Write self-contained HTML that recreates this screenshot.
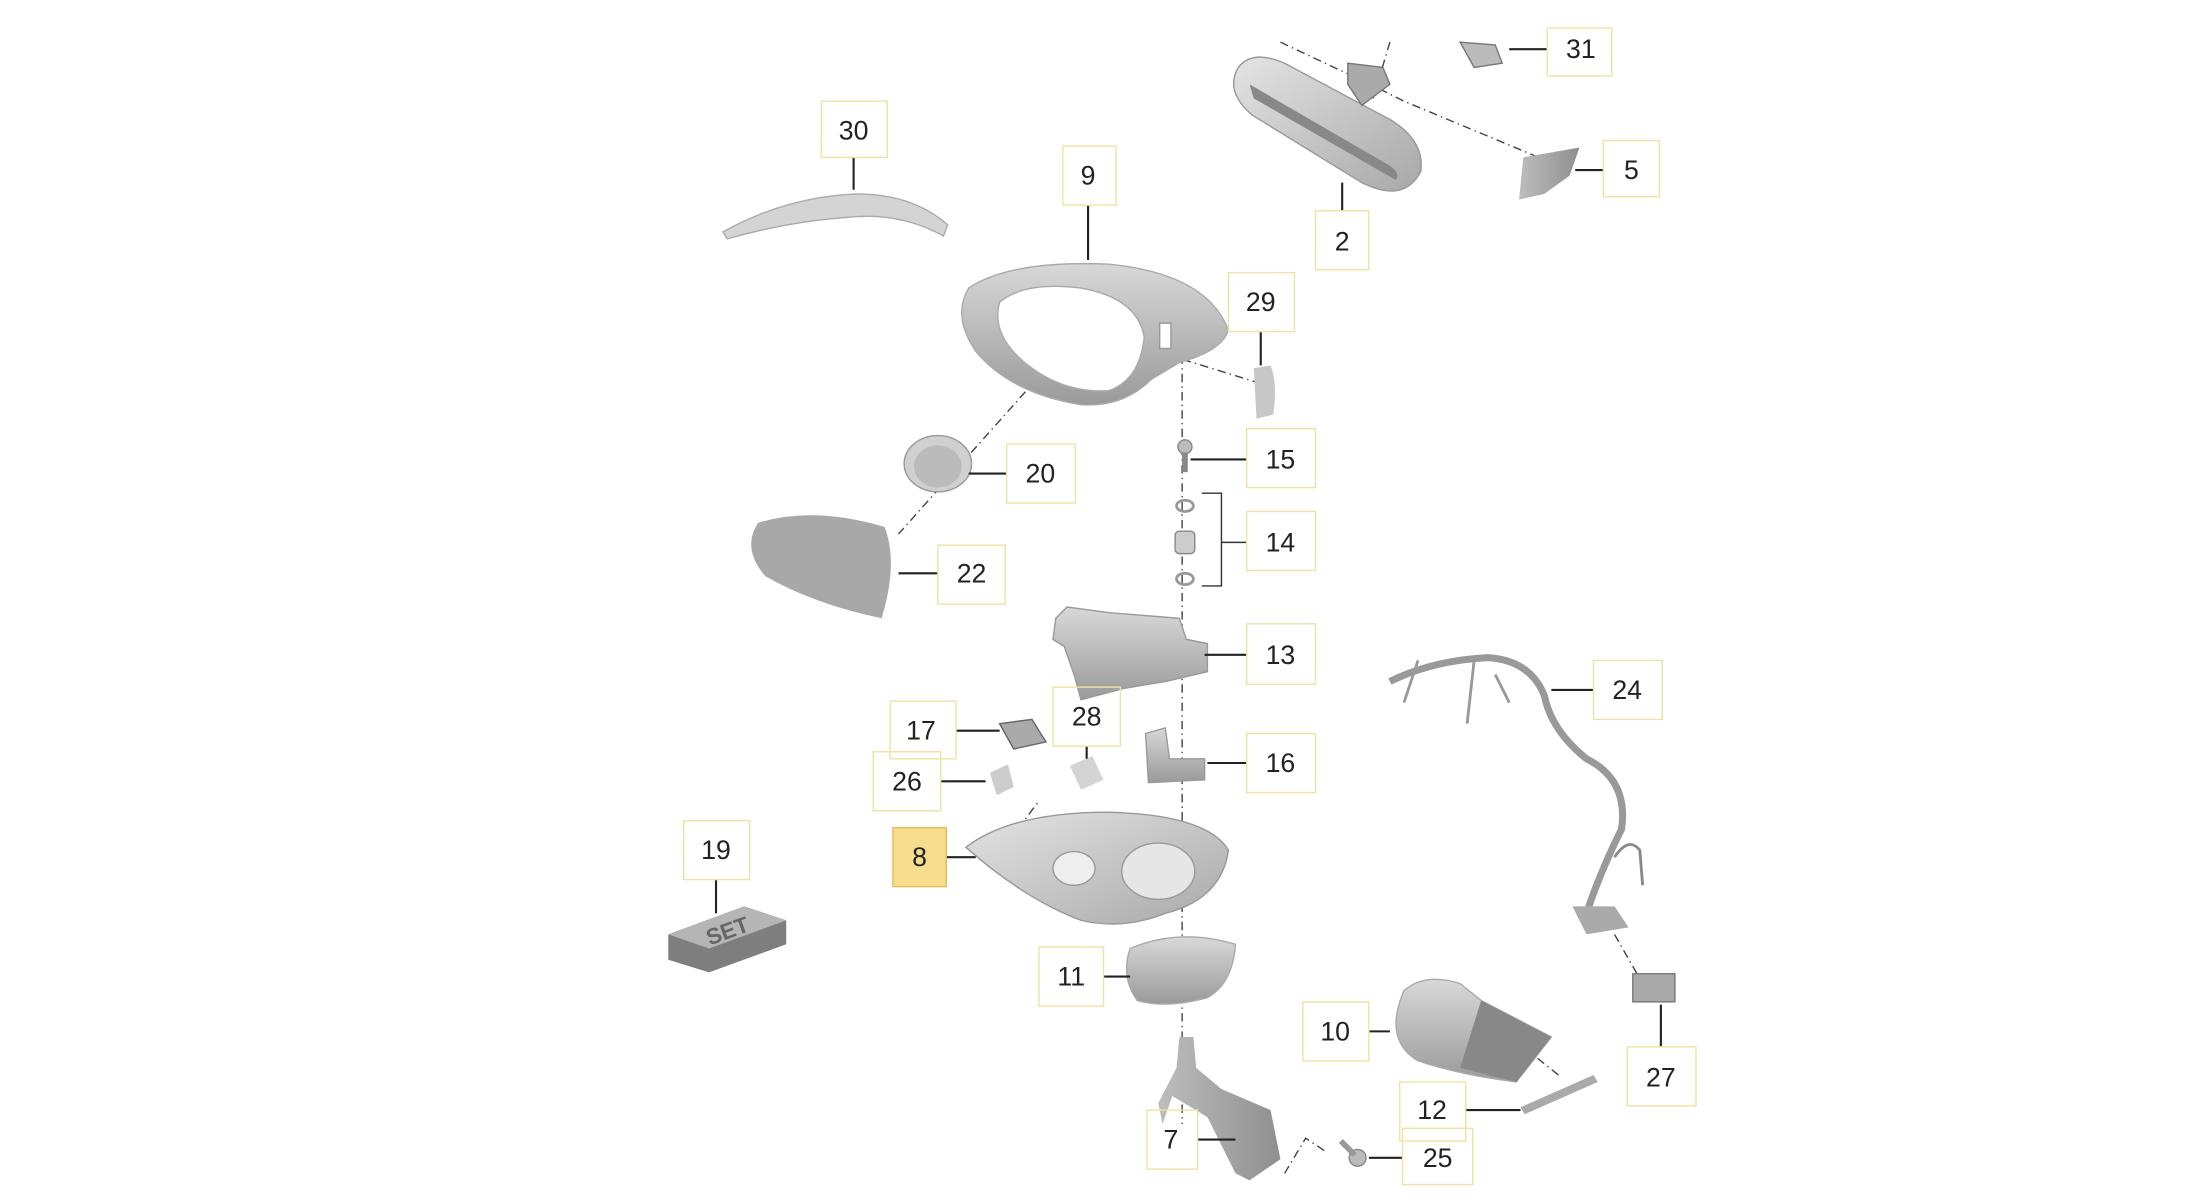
<!DOCTYPE html>
<html><head><meta charset="utf-8">
<style>html,body{margin:0;padding:0;background:#fff}svg{display:block}</style></head>
<body>
<svg width="2200" height="1200" viewBox="0 0 1567 854" preserveAspectRatio="none" xmlns="http://www.w3.org/2000/svg">
<defs>
<linearGradient id="g1" x1="0" y1="0" x2="1" y2="1"><stop offset="0" stop-color="#e4e4e4"/><stop offset="1" stop-color="#a8a8a8"/></linearGradient>
<linearGradient id="g2" x1="0" y1="0" x2="1" y2="0"><stop offset="0" stop-color="#bdbdbd"/><stop offset="1" stop-color="#8f8f8f"/></linearGradient>
<linearGradient id="g3" x1="0" y1="0" x2="0" y2="1"><stop offset="0" stop-color="#d8d8d8"/><stop offset="1" stop-color="#9a9a9a"/></linearGradient>
</defs>
<rect width="1567" height="854" fill="#fff"/>
<g stroke="#444" stroke-width="1" stroke-dasharray="6,3,1,3" fill="none">
<path d="M912 30 L980 62 L1000 72 L1096 112"/>
<path d="M990 30 L978 70"/>
<path d="M765 240 L640 380"/>
<path d="M842 240 L842 800"/>
<path d="M830 252 L895 272"/>
<path d="M725 590 L740 570"/>
<path d="M1085 745 L1110 765"/>
<path d="M1150 665 L1170 700"/>
<path d="M915 835 L930 810 L945 820"/>
</g>
<path d="M882 48 Q872 65 892 82 L970 130 Q1000 145 1012 122 Q1015 100 990 85 L915 45 Q892 35 882 48Z" fill="url(#g1)" stroke="#999"/>
<path d="M890 60 L990 118 Q998 124 994 128 L893 70 Z" fill="#888"/>
<path d="M960 45 L985 48 L990 60 L970 75 L960 60Z" fill="#aaa" stroke="#777"/>
<path d="M1040 30 L1065 32 L1070 45 L1050 48Z" fill="#bbb" stroke="#777"/>
<path d="M1085 112 L1125 105 L1118 125 L1100 138 L1082 142Z" fill="url(#g2)"/>
<path d="M515 165 Q560 140 610 138 Q650 138 675 160 L672 168 Q640 150 600 155 Q560 158 518 170Z" fill="#d4d4d4" stroke="#aaa"/>
<path d="M690 205 Q720 185 790 188 Q860 195 875 235 Q870 250 840 258 L820 270 Q800 290 770 288 Q720 280 695 250 Q678 225 690 205Z" fill="url(#g3)" stroke="#aaa"/>
<path d="M712 215 Q730 200 770 205 Q810 212 815 240 Q812 270 790 278 Q760 280 735 262 Q705 240 712 215Z" fill="#fff" stroke="#aaa"/>
<rect x="826" y="230" width="8" height="18" fill="#fff" stroke="#999"/>
<path d="M893 262 L905 260 Q910 272 907 295 L895 298Z" fill="#c8c8c8"/>
<ellipse cx="668" cy="330" rx="24" ry="20" fill="#d0d0d0" stroke="#999"/>
<ellipse cx="668" cy="332" rx="17" ry="15" fill="#bbb"/>
<path d="M540 372 Q580 360 630 375 Q640 400 628 440 Q580 430 545 410 Q528 390 540 372Z" fill="#a8a8a8"/>
<circle cx="844" cy="318" r="5" fill="#bbb" stroke="#888"/><rect x="842" y="322" width="4" height="14" fill="#888"/>
<ellipse cx="844" cy="360" rx="6" ry="4" fill="none" stroke="#999" stroke-width="2"/>
<rect x="837" y="378" width="14" height="16" rx="3" fill="#ccc" stroke="#888"/>
<ellipse cx="844" cy="412" rx="6" ry="4" fill="none" stroke="#999" stroke-width="2"/>
<path d="M856 351 L870 351 L870 417 L856 417 M870 386 L888 386" stroke="#333" fill="none"/>
<path d="M752 440 L760 432 L790 436 L840 440 L845 455 L860 458 L860 478 L830 485 L800 490 L770 498 L765 480 L758 460 L750 455Z" fill="url(#g3)" stroke="#999"/>
<path d="M990 485 Q1020 470 1060 468 Q1090 470 1100 495 Q1105 520 1130 540 Q1160 555 1155 590 Q1140 620 1130 650 L1138 660" fill="none" stroke="#999" stroke-width="5"/>
<path d="M1010 470 L1000 500 M1050 470 L1045 515 M1065 480 L1075 500" stroke="#999" stroke-width="2" fill="none"/>
<path d="M1120 645 L1150 645 L1160 660 L1130 665Z" fill="#aaa"/>
<path d="M1150 610 Q1160 595 1168 605 L1170 630" stroke="#888" stroke-width="2" fill="none"/>
<rect x="1163" y="693" width="30" height="20" fill="#aaa" stroke="#777"/>
<path d="M712 515 L735 512 L745 528 L722 533Z" fill="#aaa" stroke="#666"/>
<path d="M705 550 L718 544 L722 560 L710 566Z" fill="#ccc"/>
<path d="M762 545 L778 538 L786 555 L770 562Z" fill="#d4d4d4"/>
<path d="M816 522 L830 518 L833 540 L858 540 L858 555 L818 557Z" fill="url(#g3)" stroke="#999"/>
<path d="M688 603 Q720 578 790 578 Q860 580 875 605 Q870 640 830 650 Q800 662 770 655 Q730 640 688 603Z" fill="url(#g1)" stroke="#999"/>
<ellipse cx="825" cy="620" rx="26" ry="20" fill="#e6e6e6" stroke="#999"/>
<ellipse cx="765" cy="618" rx="15" ry="12" fill="#eee" stroke="#999"/>
<path d="M476 665 L530 645 L560 655 L560 672 L505 692 L476 683Z" fill="#7e7e7e"/>
<path d="M476 665 L530 645 L560 655 L505 675Z" fill="#b5b5b5"/>
<text x="518" y="668" font-family="Liberation Sans,sans-serif" font-size="16" font-weight="bold" fill="#666" transform="rotate(-20 518 662)" text-anchor="middle">SET</text>
<path d="M805 675 Q840 660 880 672 Q878 700 860 710 Q830 718 810 712 Q798 695 805 675Z" fill="url(#g3)" stroke="#aaa"/>
<path d="M840 738 L850 738 L852 760 L870 775 L905 790 L912 825 L890 840 L880 835 L860 795 L835 780 L828 800 L825 785 L838 760Z" fill="url(#g2)"/>
<circle cx="967" cy="824" r="6" fill="#bbb" stroke="#888"/><path d="M955 812 L965 822" stroke="#999" stroke-width="4"/>
<path d="M1000 705 Q1015 692 1040 700 L1055 712 L1105 738 L1080 770 Q1040 765 1010 755 Q985 740 1000 705Z" fill="url(#g3)" stroke="#aaa"/>
<path d="M1055 712 L1105 738 L1080 770 L1040 760Z" fill="#888"/>
<path d="M1083 788 L1135 765 L1138 770 L1086 793Z" fill="#aaa"/>
<g stroke="#222" stroke-width="1.5" fill="none">
<path d="M608 112 L608 135 M775 146 L775 185 M1142 121 L1122 121 M956 150 L956 130 M898 236 L898 260 M888 327 L848 327 M717 337 L690 337 M668 408 L640 408 M888 466 L858 466 M1135 491 L1105 491 M681 520 L712 520 M774 531 L774 540 M888 543 L860 543 M670 556 L702 556 M510 626 L510 650 M674 610 L695 610 M786 695 L805 695 M975 734 L990 734 M1044 790 L1083 790 M853 811 L880 811 M999 824 L975 824 M1183 745 L1183 715 M1102 35 L1075 35"/>
</g>
<g fill="none" stroke="#f0e2a4" stroke-width="1">
<rect x="1102" y="20" width="46" height="34"/><rect x="585" y="72" width="47" height="40"/><rect x="757" y="104" width="38" height="42"/>
<rect x="1142" y="100" width="40" height="40"/><rect x="937" y="150" width="38" height="42"/><rect x="875" y="194" width="47" height="42"/>
<rect x="888" y="305" width="49" height="42"/><rect x="717" y="316" width="49" height="42"/><rect x="888" y="364" width="49" height="42"/>
<rect x="668" y="388" width="48" height="42"/><rect x="888" y="444" width="49" height="43"/><rect x="1135" y="470" width="49" height="42"/>
<rect x="634" y="499" width="47" height="41"/><rect x="750" y="489" width="48" height="42"/><rect x="888" y="522" width="49" height="42"/>
<rect x="622" y="535" width="48" height="42"/><rect x="487" y="584" width="47" height="42"/><rect x="740" y="674" width="46" height="42"/>
<rect x="928" y="713" width="47" height="42"/><rect x="1159" y="745" width="49" height="42"/><rect x="997" y="770" width="47" height="42"/>
<rect x="817" y="790" width="36" height="42"/><rect x="999" y="803" width="50" height="40"/>
</g>
<rect x="636" y="589" width="38" height="42" fill="#f6dd8e" stroke="#e4bd5a"/>
<g font-family="Liberation Sans,sans-serif" font-size="19" fill="#222" text-anchor="middle" dominant-baseline="central">
<text x="1126" y="35">31</text><text x="608" y="93">30</text><text x="775" y="125">9</text><text x="1162" y="121">5</text>
<text x="956" y="172">2</text><text x="898" y="215">29</text><text x="912" y="327">15</text><text x="741" y="337">20</text>
<text x="912" y="386">14</text><text x="692" y="408">22</text><text x="912" y="466">13</text><text x="1159" y="491">24</text>
<text x="656" y="520">17</text><text x="774" y="510">28</text><text x="912" y="543">16</text><text x="646" y="556">26</text>
<text x="510" y="605">19</text><text x="655" y="610">8</text><text x="763" y="695">11</text><text x="951" y="734">10</text>
<text x="1183" y="767">27</text><text x="1020" y="790">12</text><text x="834" y="811">7</text><text x="1024" y="824">25</text>
</g>
</svg>
</body></html>
